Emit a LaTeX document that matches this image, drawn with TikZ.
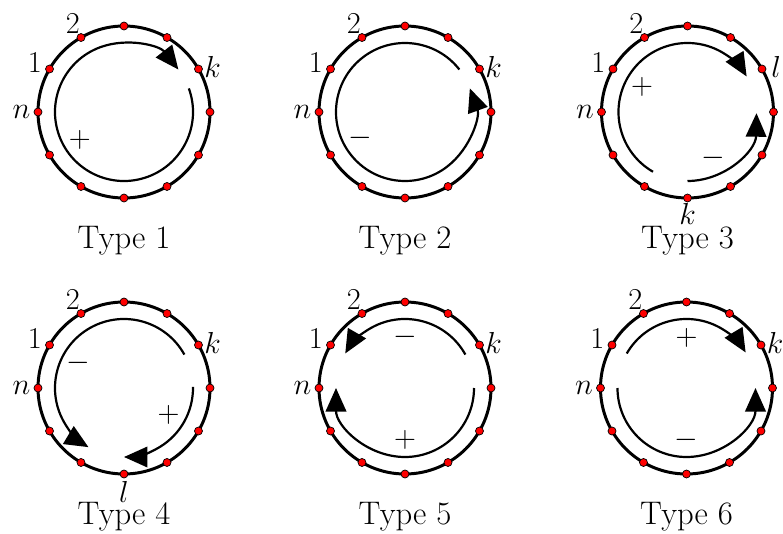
\documentclass[tikz,border=0pt]{standalone}
\usepackage{amsmath}
\usetikzlibrary{arrows.meta,positioning}

\begin{document}
\begin{tikzpicture}[
        ring/.style={draw, line width=1.7pt},
        site/.style={circle, draw=black, fill=red, line width=0.4pt,
                     inner sep=0pt, minimum size=0.16cm},
        walk/.style={line width=1.25pt},
        walkarr/.style={walk, -{Triangle[length=0.47cm, width=0.41cm]}},
        lbl/.style={font=\fontsize{18.6}{22}\selectfont, inner sep=0pt},
        sgn/.style={font=\fontsize{18.6}{22}\selectfont, inner sep=0pt},
        typecap/.style={font=\fontsize{18.6}{22}\selectfont, anchor=base}
      ]
        \useasboundingbox (0,0) rectangle (15.66,-10.68);
        \coordinate (c1) at (2.48,-2.24);
        \coordinate (c2) at (8.10,-2.24);
        \coordinate (c3) at (13.75,-2.24);
        \coordinate (c4) at (2.48,-7.76);
        \coordinate (c5) at (8.10,-7.76);
        \coordinate (c6) at (13.73,-7.76);
        % rings, sites and the labels they all share
        \foreach \c in {c1,c2,c3,c4,c5,c6} {
          \draw[ring] (\c) circle (1.72);
          \foreach \a in {0,30,...,330}
            \node[site] (\c-\a) at ([shift={(\a:1.72)}]\c) {};
          \node[lbl] (\c-two) at ([shift={(120:2.05)}]\c) {$2$};
          \node[lbl] (\c-one) at ([shift={(151:2.04)}]\c) {$1$};
          \node[lbl] (\c-n) at ([shift={(180:2.05)}]\c) {$n$};
        }
        \node[lbl] (c1-k) at ([shift={(27:1.99)}]c1) {$k$};
        \node[lbl] (c2-k) at ([shift={(27:1.99)}]c2) {$k$};
        \node[lbl] (c3-l) at ([shift={(27:1.99)}]c3) {$l$};
        \node[lbl] (c3-k) at ([shift={(270:2.04)}]c3) {$k$};
        \node[lbl] (c4-k) at ([shift={(27:1.99)}]c4) {$k$};
        \node[lbl] (c4-l) at ([shift={(270:2.07)}]c4) {$l$};
        \node[lbl] (c5-k) at ([shift={(27:1.99)}]c5) {$k$};
        \node[lbl] (c6-k) at ([shift={(27:1.99)}]c6) {$k$};
        % Type 1
        \draw[walkarr] ([shift={(20:1.38)}]c1) arc[start angle=20, end angle=-322, radius=1.38];
        \node[sgn] (c1-s) at ([shift={(212:1.04)}]c1) {$+$};
        % Type 2
        \draw[walkarr] ([shift={(38:1.38)}]c2) arc[start angle=38, end angle=380, radius=1.38];
        \node[sgn] (c2-s) at ([shift={(210:1.04)}]c2) {$-$};
        % Type 3
        \draw[walkarr] ([shift={(240:1.38)}]c3) arc[start angle=240, end angle=31, radius=1.38];
        \node[sgn] (c3-sp) at ([shift={(151:1.04)}]c3) {$+$};
        \draw[walkarr] ([shift={(270:1.38)}]c3) arc[start angle=270, end angle=359, radius=1.38];
        \node[sgn] (c3-sm) at ([shift={(-61:1.05)}]c3) {$-$};
        % Type 4
        \draw[walkarr] ([shift={(29:1.38)}]c4) arc[start angle=29, end angle=239, radius=1.38];
        \node[sgn] (c4-sm) at ([shift={(151:1.04)}]c4) {$-$};
        \draw[walkarr] ([shift={(1:1.38)}]c4) arc[start angle=1, end angle=-90, radius=1.38];
        \node[sgn] (c4-sp) at ([shift={(-31:1.04)}]c4) {$+$};
        % Type 5
        \draw[walkarr] ([shift={(29:1.38)}]c5) arc[start angle=29, end angle=150, radius=1.38];
        \node[sgn] (c5-sm) at ([shift={(90:1.02)}]c5) {$-$};
        \draw[walkarr] ([shift={(0:1.38)}]c5) arc[start angle=0, end angle=-180, radius=1.38];
        \node[sgn] (c5-sp) at ([shift={(270:1.04)}]c5) {$+$};
        % Type 6
        \draw[walkarr] ([shift={(150:1.38)}]c6) arc[start angle=150, end angle=31, radius=1.38];
        \node[sgn] (c6-sp) at ([shift={(90:1.0)}]c6) {$+$};
        \draw[walkarr] ([shift={(180:1.38)}]c6) arc[start angle=180, end angle=360, radius=1.38];
        \node[sgn] (c6-sm) at ([shift={(270:1.04)}]c6) {$-$};
        % captions
        \node[typecap] (c1-cap) at ([yshift=-2.72cm]c1) {Type 1};
        \node[typecap] (c2-cap) at ([yshift=-2.72cm]c2) {Type 2};
        \node[typecap] (c3-cap) at ([yshift=-2.72cm]c3) {Type 3};
        \node[typecap] (c4-cap) at ([yshift=-2.72cm]c4) {Type 4};
        \node[typecap] (c5-cap) at ([yshift=-2.72cm]c5) {Type 5};
        \node[typecap] (c6-cap) at ([yshift=-2.72cm]c6) {Type 6};
      \end{tikzpicture}
\end{document}
